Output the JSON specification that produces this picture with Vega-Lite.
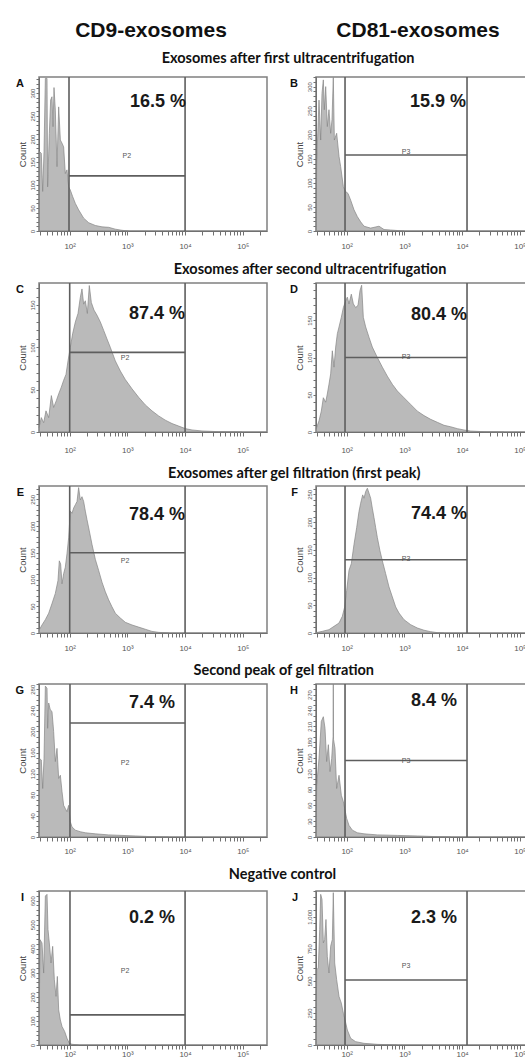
{
"$schema": "https://vega.github.io/schema/vega-lite/v6.json",
"padding": {"left": 14, "top": 20, "right": 0, "bottom": 0},
"spacing": 9,
"datasets": {
"markers": [{"marker": "CD9-exosomes"}, {"marker": "CD81-exosomes"}],
"gates": [
{"panel": "A", "letter": "A", "pct": "16.5 %", "gate": "P2", "g1": 1.988, "g2": 4.0, "gy": 120},
{"panel": "B", "letter": "B", "pct": "15.9 %", "gate": "P3", "g1": 1.971, "g2": 4.085, "gy": 158},
{"panel": "C", "letter": "C", "pct": "87.4 %", "gate": "P2", "g1": 2.0, "g2": 4.0, "gy": 94},
{"panel": "D", "letter": "D", "pct": "80.4 %", "gate": "P3", "g1": 1.971, "g2": 4.085, "gy": 100},
{"panel": "E", "letter": "E", "pct": "78.4 %", "gate": "P2", "g1": 2.0, "g2": 4.0, "gy": 150},
{"panel": "F", "letter": "F", "pct": "74.4 %", "gate": "P3", "g1": 1.971, "g2": 4.085, "gy": 132},
{"panel": "G", "letter": "G", "pct": "7.4 %", "gate": "P2", "g1": 2.005, "g2": 4.0, "gy": 216},
{"panel": "H", "letter": "H", "pct": "8.4 %", "gate": "P3", "g1": 1.971, "g2": 4.085, "gy": 145},
{"panel": "I", "letter": "I", "pct": "0.2 %", "gate": "P2", "g1": 2.005, "g2": 4.0, "gy": 125},
{"panel": "J", "letter": "J", "pct": "2.3 %", "gate": "P3", "g1": 1.971, "g2": 4.085, "gy": 506}
],
"hist": [
{"panel":"A","logFL":1.468,"count":0},{"panel":"A","logFL":1.474,"count":173},{"panel":"A","logFL":1.508,"count":169},{"panel":"A","logFL":1.532,"count":86},{"panel":"A","logFL":1.555,"count":173},{"panel":"A","logFL":1.578,"count":332},{"panel":"A","logFL":1.607,"count":332},{"panel":"A","logFL":1.618,"count":96},{"panel":"A","logFL":1.647,"count":212},{"panel":"A","logFL":1.670,"count":285},{"panel":"A","logFL":1.693,"count":292},{"panel":"A","logFL":1.711,"count":227},{"panel":"A","logFL":1.728,"count":312},{"panel":"A","logFL":1.751,"count":263},{"panel":"A","logFL":1.780,"count":140},{"panel":"A","logFL":1.809,"count":270},{"panel":"A","logFL":1.838,"count":198},{"panel":"A","logFL":1.867,"count":191},{"panel":"A","logFL":1.895,"count":183},{"panel":"A","logFL":1.924,"count":125},{"panel":"A","logFL":1.953,"count":133},{"panel":"A","logFL":1.982,"count":96},{"panel":"A","logFL":2.011,"count":89},{"panel":"A","logFL":2.051,"count":75},{"panel":"A","logFL":2.098,"count":60},{"panel":"A","logFL":2.155,"count":46},{"panel":"A","logFL":2.242,"count":28},{"panel":"A","logFL":2.329,"count":18},{"panel":"A","logFL":2.444,"count":12},{"panel":"A","logFL":2.560,"count":9},{"panel":"A","logFL":2.675,"count":8},{"panel":"A","logFL":2.791,"count":4},{"panel":"A","logFL":2.906,"count":1.5},{"panel":"A","logFL":3.022,"count":0},
{"panel":"B","logFL":1.468,"count":0},{"panel":"B","logFL":1.480,"count":141},{"panel":"B","logFL":1.520,"count":272},{"panel":"B","logFL":1.549,"count":189},{"panel":"B","logFL":1.572,"count":286},{"panel":"B","logFL":1.595,"count":314},{"panel":"B","logFL":1.612,"count":252},{"panel":"B","logFL":1.636,"count":300},{"panel":"B","logFL":1.664,"count":217},{"panel":"B","logFL":1.693,"count":252},{"panel":"B","logFL":1.722,"count":203},{"panel":"B","logFL":1.745,"count":231},{"panel":"B","logFL":1.768,"count":319},{"panel":"B","logFL":1.786,"count":189},{"panel":"B","logFL":1.826,"count":203},{"panel":"B","logFL":1.867,"count":155},{"panel":"B","logFL":1.895,"count":134},{"panel":"B","logFL":1.942,"count":92},{"panel":"B","logFL":1.982,"count":82},{"panel":"B","logFL":2.023,"count":78},{"panel":"B","logFL":2.069,"count":64},{"panel":"B","logFL":2.127,"count":44},{"panel":"B","logFL":2.184,"count":30},{"panel":"B","logFL":2.242,"count":19},{"panel":"B","logFL":2.300,"count":10},{"panel":"B","logFL":2.415,"count":6},{"panel":"B","logFL":2.560,"count":10},{"panel":"B","logFL":2.647,"count":3},{"panel":"B","logFL":2.762,"count":2},{"panel":"B","logFL":2.993,"count":0},
{"panel":"C","logFL":1.468,"count":5},{"panel":"C","logFL":1.508,"count":17},{"panel":"C","logFL":1.549,"count":11},{"panel":"C","logFL":1.589,"count":25},{"panel":"C","logFL":1.636,"count":17},{"panel":"C","logFL":1.682,"count":43},{"panel":"C","logFL":1.722,"count":29},{"panel":"C","logFL":1.768,"count":37},{"panel":"C","logFL":1.809,"count":45},{"panel":"C","logFL":1.855,"count":53},{"panel":"C","logFL":1.895,"count":61},{"panel":"C","logFL":1.936,"count":68},{"panel":"C","logFL":1.971,"count":84},{"panel":"C","logFL":2.011,"count":100},{"panel":"C","logFL":2.051,"count":116},{"panel":"C","logFL":2.098,"count":130},{"panel":"C","logFL":2.144,"count":140},{"panel":"C","logFL":2.184,"count":159},{"panel":"C","logFL":2.213,"count":169},{"panel":"C","logFL":2.242,"count":151},{"panel":"C","logFL":2.271,"count":155},{"panel":"C","logFL":2.306,"count":140},{"panel":"C","logFL":2.340,"count":173},{"panel":"C","logFL":2.375,"count":153},{"panel":"C","logFL":2.421,"count":144},{"panel":"C","logFL":2.473,"count":138},{"panel":"C","logFL":2.531,"count":130},{"panel":"C","logFL":2.589,"count":120},{"panel":"C","logFL":2.646,"count":110},{"panel":"C","logFL":2.704,"count":100},{"panel":"C","logFL":2.791,"count":84},{"panel":"C","logFL":2.878,"count":72},{"panel":"C","logFL":2.964,"count":62},{"panel":"C","logFL":3.080,"count":51},{"panel":"C","logFL":3.195,"count":41},{"panel":"C","logFL":3.311,"count":32},{"panel":"C","logFL":3.426,"count":25},{"panel":"C","logFL":3.542,"count":19},{"panel":"C","logFL":3.657,"count":14},{"panel":"C","logFL":3.773,"count":10},{"panel":"C","logFL":3.889,"count":7},{"panel":"C","logFL":4.004,"count":4},{"panel":"C","logFL":4.120,"count":2.4},{"panel":"C","logFL":4.293,"count":1.2},{"panel":"C","logFL":4.582,"count":0.4},{"panel":"C","logFL":4.986,"count":0},
{"panel":"D","logFL":1.468,"count":3.6},{"panel":"D","logFL":1.520,"count":15},{"panel":"D","logFL":1.560,"count":28},{"panel":"D","logFL":1.595,"count":46},{"panel":"D","logFL":1.636,"count":40},{"panel":"D","logFL":1.664,"count":51},{"panel":"D","logFL":1.693,"count":64},{"panel":"D","logFL":1.722,"count":78},{"panel":"D","logFL":1.751,"count":109},{"panel":"D","logFL":1.780,"count":87},{"panel":"D","logFL":1.809,"count":114},{"panel":"D","logFL":1.838,"count":132},{"panel":"D","logFL":1.867,"count":141},{"panel":"D","logFL":1.907,"count":154},{"panel":"D","logFL":1.942,"count":167},{"panel":"D","logFL":1.982,"count":176},{"panel":"D","logFL":2.011,"count":181},{"panel":"D","logFL":2.040,"count":172},{"panel":"D","logFL":2.080,"count":185},{"panel":"D","logFL":2.115,"count":172},{"panel":"D","logFL":2.155,"count":167},{"panel":"D","logFL":2.196,"count":170},{"panel":"D","logFL":2.231,"count":190},{"panel":"D","logFL":2.259,"count":197},{"panel":"D","logFL":2.288,"count":154},{"panel":"D","logFL":2.329,"count":141},{"panel":"D","logFL":2.387,"count":127},{"panel":"D","logFL":2.444,"count":114},{"panel":"D","logFL":2.531,"count":100},{"panel":"D","logFL":2.618,"count":87},{"panel":"D","logFL":2.704,"count":75},{"panel":"D","logFL":2.791,"count":64},{"panel":"D","logFL":2.878,"count":55},{"panel":"D","logFL":2.993,"count":46},{"panel":"D","logFL":3.109,"count":37},{"panel":"D","logFL":3.224,"count":28},{"panel":"D","logFL":3.340,"count":22},{"panel":"D","logFL":3.455,"count":17},{"panel":"D","logFL":3.571,"count":13},{"panel":"D","logFL":3.686,"count":9},{"panel":"D","logFL":3.802,"count":7},{"panel":"D","logFL":3.917,"count":4.5},{"panel":"D","logFL":4.033,"count":2.7},{"panel":"D","logFL":4.149,"count":1.3},{"panel":"D","logFL":4.380,"count":0.4},{"panel":"D","logFL":4.726,"count":0},
{"panel":"E","logFL":1.468,"count":5},{"panel":"E","logFL":1.474,"count":6},{"panel":"E","logFL":1.520,"count":15},{"panel":"E","logFL":1.578,"count":25},{"panel":"E","logFL":1.636,"count":37},{"panel":"E","logFL":1.693,"count":55},{"panel":"E","logFL":1.751,"count":74},{"panel":"E","logFL":1.797,"count":98},{"panel":"E","logFL":1.820,"count":135},{"panel":"E","logFL":1.843,"count":129},{"panel":"E","logFL":1.867,"count":92},{"panel":"E","logFL":1.895,"count":111},{"panel":"E","logFL":1.924,"count":123},{"panel":"E","logFL":1.953,"count":148},{"panel":"E","logFL":1.982,"count":178},{"panel":"E","logFL":2.011,"count":228},{"panel":"E","logFL":2.040,"count":224},{"panel":"E","logFL":2.069,"count":234},{"panel":"E","logFL":2.098,"count":240},{"panel":"E","logFL":2.127,"count":246},{"panel":"E","logFL":2.155,"count":272},{"panel":"E","logFL":2.184,"count":249},{"panel":"E","logFL":2.213,"count":255},{"panel":"E","logFL":2.242,"count":246},{"panel":"E","logFL":2.271,"count":228},{"panel":"E","logFL":2.300,"count":212},{"panel":"E","logFL":2.340,"count":191},{"panel":"E","logFL":2.386,"count":166},{"panel":"E","logFL":2.444,"count":138},{"panel":"E","logFL":2.502,"count":117},{"panel":"E","logFL":2.560,"count":95},{"panel":"E","logFL":2.618,"count":77},{"panel":"E","logFL":2.675,"count":62},{"panel":"E","logFL":2.733,"count":49},{"panel":"E","logFL":2.791,"count":37},{"panel":"E","logFL":2.878,"count":28},{"panel":"E","logFL":2.964,"count":20},{"panel":"E","logFL":3.080,"count":15},{"panel":"E","logFL":3.195,"count":11},{"panel":"E","logFL":3.311,"count":7},{"panel":"E","logFL":3.426,"count":3},{"panel":"E","logFL":3.542,"count":1.2},{"panel":"E","logFL":3.715,"count":0},
{"panel":"F","logFL":1.468,"count":0.6},{"panel":"F","logFL":1.578,"count":3},{"panel":"F","logFL":1.693,"count":6},{"panel":"F","logFL":1.780,"count":12},{"panel":"F","logFL":1.867,"count":18},{"panel":"F","logFL":1.924,"count":30},{"panel":"F","logFL":1.965,"count":47},{"panel":"F","logFL":2.000,"count":77},{"panel":"F","logFL":2.040,"count":113},{"panel":"F","logFL":2.080,"count":125},{"panel":"F","logFL":2.127,"count":160},{"panel":"F","logFL":2.173,"count":190},{"panel":"F","logFL":2.213,"count":219},{"panel":"F","logFL":2.242,"count":234},{"panel":"F","logFL":2.277,"count":249},{"panel":"F","logFL":2.300,"count":243},{"panel":"F","logFL":2.329,"count":255},{"panel":"F","logFL":2.358,"count":261},{"panel":"F","logFL":2.387,"count":252},{"panel":"F","logFL":2.415,"count":243},{"panel":"F","logFL":2.444,"count":225},{"panel":"F","logFL":2.473,"count":208},{"panel":"F","logFL":2.502,"count":190},{"panel":"F","logFL":2.531,"count":172},{"panel":"F","logFL":2.577,"count":148},{"panel":"F","logFL":2.618,"count":130},{"panel":"F","logFL":2.675,"count":107},{"panel":"F","logFL":2.733,"count":83},{"panel":"F","logFL":2.791,"count":65},{"panel":"F","logFL":2.849,"count":47},{"panel":"F","logFL":2.906,"count":36},{"panel":"F","logFL":2.993,"count":24},{"panel":"F","logFL":3.109,"count":15},{"panel":"F","logFL":3.224,"count":9},{"panel":"F","logFL":3.340,"count":5},{"panel":"F","logFL":3.455,"count":2.4},{"panel":"F","logFL":3.571,"count":0.6},{"panel":"F","logFL":3.686,"count":0},
{"panel":"G","logFL":1.468,"count":0},{"panel":"G","logFL":1.474,"count":149},{"panel":"G","logFL":1.508,"count":146},{"panel":"G","logFL":1.532,"count":92},{"panel":"G","logFL":1.555,"count":149},{"panel":"G","logFL":1.578,"count":286},{"panel":"G","logFL":1.607,"count":282},{"panel":"G","logFL":1.618,"count":206},{"panel":"G","logFL":1.636,"count":254},{"panel":"G","logFL":1.664,"count":241},{"panel":"G","logFL":1.693,"count":238},{"panel":"G","logFL":1.722,"count":200},{"panel":"G","logFL":1.751,"count":143},{"panel":"G","logFL":1.780,"count":168},{"panel":"G","logFL":1.809,"count":111},{"panel":"G","logFL":1.838,"count":117},{"panel":"G","logFL":1.867,"count":86},{"panel":"G","logFL":1.895,"count":60},{"panel":"G","logFL":1.924,"count":54},{"panel":"G","logFL":1.953,"count":48},{"panel":"G","logFL":1.982,"count":60},{"panel":"G","logFL":2.011,"count":29},{"panel":"G","logFL":2.040,"count":19},{"panel":"G","logFL":2.098,"count":13},{"panel":"G","logFL":2.184,"count":10},{"panel":"G","logFL":2.271,"count":8},{"panel":"G","logFL":2.444,"count":6},{"panel":"G","logFL":2.675,"count":4},{"panel":"G","logFL":2.906,"count":3},{"panel":"G","logFL":3.137,"count":2},{"panel":"G","logFL":3.426,"count":0.6},{"panel":"G","logFL":3.715,"count":0},
{"panel":"H","logFL":1.468,"count":0},{"panel":"H","logFL":1.480,"count":98},{"panel":"H","logFL":1.520,"count":149},{"panel":"H","logFL":1.560,"count":219},{"panel":"H","logFL":1.595,"count":228},{"panel":"H","logFL":1.624,"count":206},{"panel":"H","logFL":1.653,"count":143},{"panel":"H","logFL":1.682,"count":175},{"panel":"H","logFL":1.711,"count":124},{"panel":"H","logFL":1.740,"count":149},{"panel":"H","logFL":1.764,"count":190},{"panel":"H","logFL":1.768,"count":290},{"panel":"H","logFL":1.772,"count":185},{"panel":"H","logFL":1.797,"count":168},{"panel":"H","logFL":1.826,"count":92},{"panel":"H","logFL":1.867,"count":117},{"panel":"H","logFL":1.907,"count":79},{"panel":"H","logFL":1.942,"count":67},{"panel":"H","logFL":1.965,"count":54},{"panel":"H","logFL":2.000,"count":35},{"panel":"H","logFL":2.040,"count":22},{"panel":"H","logFL":2.098,"count":13},{"panel":"H","logFL":2.184,"count":8},{"panel":"H","logFL":2.300,"count":6},{"panel":"H","logFL":2.531,"count":4},{"panel":"H","logFL":2.878,"count":3},{"panel":"H","logFL":3.224,"count":2},{"panel":"H","logFL":3.571,"count":0.6},{"panel":"H","logFL":3.802,"count":0},
{"panel":"I","logFL":1.468,"count":0},{"panel":"I","logFL":1.485,"count":438},{"panel":"I","logFL":1.520,"count":424},{"panel":"I","logFL":1.549,"count":299},{"panel":"I","logFL":1.578,"count":619},{"panel":"I","logFL":1.607,"count":626},{"panel":"I","logFL":1.624,"count":480},{"panel":"I","logFL":1.647,"count":424},{"panel":"I","logFL":1.676,"count":341},{"panel":"I","logFL":1.705,"count":410},{"panel":"I","logFL":1.734,"count":271},{"panel":"I","logFL":1.763,"count":202},{"panel":"I","logFL":1.786,"count":285},{"panel":"I","logFL":1.809,"count":146},{"panel":"I","logFL":1.838,"count":104},{"panel":"I","logFL":1.867,"count":77},{"panel":"I","logFL":1.913,"count":56},{"panel":"I","logFL":1.953,"count":28},{"panel":"I","logFL":1.994,"count":7},{"panel":"I","logFL":2.040,"count":3},{"panel":"I","logFL":2.155,"count":0},
{"panel":"J","logFL":1.468,"count":0},{"panel":"J","logFL":1.480,"count":587},{"panel":"J","logFL":1.508,"count":600},{"panel":"J","logFL":1.532,"count":900},{"panel":"J","logFL":1.549,"count":1174},{"panel":"J","logFL":1.572,"count":1135},{"panel":"J","logFL":1.595,"count":796},{"panel":"J","logFL":1.618,"count":822},{"panel":"J","logFL":1.641,"count":978},{"panel":"J","logFL":1.664,"count":691},{"panel":"J","logFL":1.693,"count":561},{"panel":"J","logFL":1.722,"count":770},{"panel":"J","logFL":1.751,"count":822},{"panel":"J","logFL":1.768,"count":1187},{"panel":"J","logFL":1.792,"count":639},{"panel":"J","logFL":1.826,"count":509},{"panel":"J","logFL":1.867,"count":378},{"panel":"J","logFL":1.907,"count":326},{"panel":"J","logFL":1.942,"count":248},{"panel":"J","logFL":1.971,"count":196},{"panel":"J","logFL":2.011,"count":117},{"panel":"J","logFL":2.069,"count":52},{"panel":"J","logFL":2.155,"count":26},{"panel":"J","logFL":2.300,"count":13},{"panel":"J","logFL":2.531,"count":5},{"panel":"J","logFL":2.878,"count":0}
]
},
"vconcat": [
{"hconcat": [
 {"width": 228, "height": 20, "view": {"stroke": null}, "data": {"name": "markers"}, "transform": [{"filter": "datum.marker === 'CD9-exosomes'"}], "mark": {"type": "text", "font": "Liberation Sans", "fontSize": 21, "fontWeight": "bold", "color": "#111", "dx": -2}, "encoding": {"text": {"field": "marker"}}},
 {"width": 210, "height": 20, "view": {"stroke": null}, "data": {"name": "markers"}, "transform": [{"filter": "datum.marker === 'CD81-exosomes'"}], "mark": {"type": "text", "font": "Liberation Sans", "fontSize": 21, "fontWeight": "bold", "color": "#111", "dx": -3}, "encoding": {"text": {"field": "marker"}}}
], "spacing": 49, "bounds": "flush"},
{"vconcat": [
{"title": {"text": "Exosomes after first ultracentrifugation", "dx": 17, "offset": 9}, "spacing": 49, "bounds": "flush", "hconcat": [
 {"width": 228, "height": 154, "layer": [
  {"data": {"name": "hist"}, "transform": [{"filter": "datum.panel === 'A'"}], "mark": {"type": "area", "color": "#9d9d9d", "line": {"color": "#858585", "strokeWidth": 0.7}},
   "encoding": {"x": {"field": "logFL", "type": "quantitative", "scale": {"domain": [1.468, 5.42], "nice": false, "zero": false}, "axis": {"title": null, "tickCount": 100, "labelOverlap": false, "labelPadding": 7, "values": [1.477,1.602,1.699,1.778,1.845,1.903,1.954,2,2.301,2.477,2.602,2.699,2.778,2.845,2.903,2.954,3,3.301,3.477,3.602,3.699,3.778,3.845,3.903,3.954,4,4.301,4.477,4.602,4.699,4.778,4.845,4.903,4.954,5,5.301], "labelExpr": "datum.value == 2 ? '10²' : datum.value == 3 ? '10³' : datum.value == 4 ? '10⁴' : datum.value == 5 ? '10⁵' : ''"}},
    "y": {"field": "count", "type": "quantitative", "scale": {"domain": [0, 335], "nice": false}, "axis": {"title": "Count", "tickCount": 100, "labelOverlap": false, "values": [0,10,20,30,40,50,60,70,80,90,100,110,120,130,140,150,160,170,180,190,200,210,220,230,240,250,260,270,280,290,300,310,320,330], "labelExpr": "datum.value % 50 === 0 ? format(datum.value, ',') : ''"}}}},
  {"data": {"name": "gates"}, "transform": [{"filter": "datum.panel === 'A'"}, {"fold": ["g1", "g2"], "as": ["edge", "gx"]}], "mark": {"type": "rule", "color": "#5e5e5e", "strokeWidth": 1.6}, "encoding": {"x": {"field": "gx", "type": "quantitative"}}},
  {"data": {"name": "gates"}, "transform": [{"filter": "datum.panel === 'A'"}], "mark": {"type": "rule", "color": "#5e5e5e", "strokeWidth": 1.6}, "encoding": {"x": {"field": "g1", "type": "quantitative"}, "x2": {"field": "g2"}, "y": {"field": "gy", "type": "quantitative"}}},
  {"data": {"name": "gates"}, "transform": [{"filter": "datum.panel === 'A'"}], "mark": {"type": "text", "fontWeight": "bold", "fontSize": 18, "align": "right", "baseline": "alphabetic", "color": "#1a1a1a"}, "encoding": {"x": {"datum": 4.015}, "y": {"datum": 270}, "text": {"field": "pct"}}},
  {"data": {"name": "gates"}, "transform": [{"filter": "datum.panel === 'A'"}], "mark": {"type": "text", "fontSize": 7, "color": "#555", "baseline": "middle"}, "encoding": {"x": {"datum": 2.99}, "y": {"datum": 163}, "text": {"field": "gate"}}},
  {"data": {"name": "gates"}, "transform": [{"filter": "datum.panel === 'A'"}], "mark": {"type": "text", "fontWeight": "bold", "fontSize": 11, "align": "right", "baseline": "middle", "dx": -15, "dy": 7, "color": "#111"}, "encoding": {"x": {"datum": 1.468}, "y": {"datum": 335}, "text": {"field": "letter"}}}
 ]},
 {"width": 210, "height": 154, "layer": [
  {"data": {"name": "hist"}, "transform": [{"filter": "datum.panel === 'B'"}], "mark": {"type": "area", "color": "#9d9d9d", "line": {"color": "#858585", "strokeWidth": 0.7}},
   "encoding": {"x": {"field": "logFL", "type": "quantitative", "scale": {"domain": [1.468, 5.107], "nice": false, "zero": false}, "axis": {"title": null, "tickCount": 100, "labelOverlap": false, "labelPadding": 7, "values": [1.477,1.602,1.699,1.778,1.845,1.903,1.954,2,2.301,2.477,2.602,2.699,2.778,2.845,2.903,2.954,3,3.301,3.477,3.602,3.699,3.778,3.845,3.903,3.954,4,4.301,4.477,4.602,4.699,4.778,4.845,4.903,4.954,5], "labelExpr": "datum.value == 2 ? '10²' : datum.value == 3 ? '10³' : datum.value == 4 ? '10⁴' : datum.value == 5 ? '10⁵' : ''"}},
    "y": {"field": "count", "type": "quantitative", "scale": {"domain": [0, 320], "nice": false}, "axis": {"title": "Count", "tickCount": 100, "labelOverlap": false, "values": [0,10,20,30,40,50,60,70,80,90,100,110,120,130,140,150,160,170,180,190,200,210,220,230,240,250,260,270,280,290,300,310,320], "labelExpr": "datum.value % 50 === 0 ? format(datum.value, ',') : ''"}}}},
  {"data": {"name": "gates"}, "transform": [{"filter": "datum.panel === 'B'"}, {"fold": ["g1", "g2"], "as": ["edge", "gx"]}], "mark": {"type": "rule", "color": "#5e5e5e", "strokeWidth": 1.6}, "encoding": {"x": {"field": "gx", "type": "quantitative"}}},
  {"data": {"name": "gates"}, "transform": [{"filter": "datum.panel === 'B'"}], "mark": {"type": "rule", "color": "#5e5e5e", "strokeWidth": 1.6}, "encoding": {"x": {"field": "g1", "type": "quantitative"}, "x2": {"field": "g2"}, "y": {"field": "gy", "type": "quantitative"}}},
  {"data": {"name": "gates"}, "transform": [{"filter": "datum.panel === 'B'"}], "mark": {"type": "text", "fontWeight": "bold", "fontSize": 18, "align": "right", "baseline": "alphabetic", "color": "#1a1a1a"}, "encoding": {"x": {"datum": 4.067}, "y": {"datum": 258}, "text": {"field": "pct"}}},
  {"data": {"name": "gates"}, "transform": [{"filter": "datum.panel === 'B'"}], "mark": {"type": "text", "fontSize": 7, "color": "#555", "baseline": "middle"}, "encoding": {"x": {"datum": 3.028}, "y": {"datum": 164}, "text": {"field": "gate"}}},
  {"data": {"name": "gates"}, "transform": [{"filter": "datum.panel === 'B'"}], "mark": {"type": "text", "fontWeight": "bold", "fontSize": 11, "align": "right", "baseline": "middle", "dx": -18, "dy": 7, "color": "#111"}, "encoding": {"x": {"datum": 1.468}, "y": {"datum": 320}, "text": {"field": "letter"}}}
 ]}
]},
{"title": {"text": "Exosomes after second ultracentrifugation", "dx": 39, "offset": 4}, "spacing": 49, "bounds": "flush", "hconcat": [
 {"width": 228, "height": 149, "layer": [
  {"data": {"name": "hist"}, "transform": [{"filter": "datum.panel === 'C'"}], "mark": {"type": "area", "color": "#9d9d9d", "line": {"color": "#858585", "strokeWidth": 0.7}},
   "encoding": {"x": {"field": "logFL", "type": "quantitative", "scale": {"domain": [1.468, 5.42], "nice": false, "zero": false}, "axis": {"title": null, "tickCount": 100, "labelOverlap": false, "labelPadding": 10, "values": [1.477,1.602,1.699,1.778,1.845,1.903,1.954,2,2.301,2.477,2.602,2.699,2.778,2.845,2.903,2.954,3,3.301,3.477,3.602,3.699,3.778,3.845,3.903,3.954,4,4.301,4.477,4.602,4.699,4.778,4.845,4.903,4.954,5,5.301], "labelExpr": "datum.value == 2 ? '10²' : datum.value == 3 ? '10³' : datum.value == 4 ? '10⁴' : datum.value == 5 ? '10⁵' : ''"}},
    "y": {"field": "count", "type": "quantitative", "scale": {"domain": [0, 176], "nice": false}, "axis": {"title": "Count", "tickCount": 100, "labelOverlap": false, "values": [0,10,20,30,40,50,60,70,80,90,100,110,120,130,140,150,160,170], "labelExpr": "datum.value % 50 === 0 ? format(datum.value, ',') : ''"}}}},
  {"data": {"name": "gates"}, "transform": [{"filter": "datum.panel === 'C'"}, {"fold": ["g1", "g2"], "as": ["edge", "gx"]}], "mark": {"type": "rule", "color": "#5e5e5e", "strokeWidth": 1.6}, "encoding": {"x": {"field": "gx", "type": "quantitative"}}},
  {"data": {"name": "gates"}, "transform": [{"filter": "datum.panel === 'C'"}], "mark": {"type": "rule", "color": "#5e5e5e", "strokeWidth": 1.6}, "encoding": {"x": {"field": "g1", "type": "quantitative"}, "x2": {"field": "g2"}, "y": {"field": "gy", "type": "quantitative"}}},
  {"data": {"name": "gates"}, "transform": [{"filter": "datum.panel === 'C'"}], "mark": {"type": "text", "fontWeight": "bold", "fontSize": 18, "align": "right", "baseline": "alphabetic", "color": "#1a1a1a"}, "encoding": {"x": {"datum": 4.0}, "y": {"datum": 134}, "text": {"field": "pct"}}},
  {"data": {"name": "gates"}, "transform": [{"filter": "datum.panel === 'C'"}], "mark": {"type": "text", "fontSize": 7, "color": "#555", "baseline": "middle"}, "encoding": {"x": {"datum": 2.96}, "y": {"datum": 87}, "text": {"field": "gate"}}},
  {"data": {"name": "gates"}, "transform": [{"filter": "datum.panel === 'C'"}], "mark": {"type": "text", "fontWeight": "bold", "fontSize": 11, "align": "right", "baseline": "middle", "dx": -15, "dy": 7, "color": "#111"}, "encoding": {"x": {"datum": 1.468}, "y": {"datum": 176}, "text": {"field": "letter"}}}
 ]},
 {"width": 210, "height": 149, "layer": [
  {"data": {"name": "hist"}, "transform": [{"filter": "datum.panel === 'D'"}], "mark": {"type": "area", "color": "#9d9d9d", "line": {"color": "#858585", "strokeWidth": 0.7}},
   "encoding": {"x": {"field": "logFL", "type": "quantitative", "scale": {"domain": [1.468, 5.107], "nice": false, "zero": false}, "axis": {"title": null, "tickCount": 100, "labelOverlap": false, "labelPadding": 10, "values": [1.477,1.602,1.699,1.778,1.845,1.903,1.954,2,2.301,2.477,2.602,2.699,2.778,2.845,2.903,2.954,3,3.301,3.477,3.602,3.699,3.778,3.845,3.903,3.954,4,4.301,4.477,4.602,4.699,4.778,4.845,4.903,4.954,5], "labelExpr": "datum.value == 2 ? '10²' : datum.value == 3 ? '10³' : datum.value == 4 ? '10⁴' : datum.value == 5 ? '10⁵' : ''"}},
    "y": {"field": "count", "type": "quantitative", "scale": {"domain": [0, 200], "nice": false}, "axis": {"title": "Count", "tickCount": 100, "labelOverlap": false, "values": [0,10,20,30,40,50,60,70,80,90,100,110,120,130,140,150,160,170,180,190,200], "labelExpr": "datum.value % 50 === 0 && datum.value < 200 ? format(datum.value, ',') : ''"}}}},
  {"data": {"name": "gates"}, "transform": [{"filter": "datum.panel === 'D'"}, {"fold": ["g1", "g2"], "as": ["edge", "gx"]}], "mark": {"type": "rule", "color": "#5e5e5e", "strokeWidth": 1.6}, "encoding": {"x": {"field": "gx", "type": "quantitative"}}},
  {"data": {"name": "gates"}, "transform": [{"filter": "datum.panel === 'D'"}], "mark": {"type": "rule", "color": "#5e5e5e", "strokeWidth": 1.6}, "encoding": {"x": {"field": "g1", "type": "quantitative"}, "x2": {"field": "g2"}, "y": {"field": "gy", "type": "quantitative"}}},
  {"data": {"name": "gates"}, "transform": [{"filter": "datum.panel === 'D'"}], "mark": {"type": "text", "fontWeight": "bold", "fontSize": 18, "align": "right", "baseline": "alphabetic", "color": "#1a1a1a"}, "encoding": {"x": {"datum": 4.085}, "y": {"datum": 151}, "text": {"field": "pct"}}},
  {"data": {"name": "gates"}, "transform": [{"filter": "datum.panel === 'D'"}], "mark": {"type": "text", "fontSize": 7, "color": "#555", "baseline": "middle"}, "encoding": {"x": {"datum": 3.028}, "y": {"datum": 101}, "text": {"field": "gate"}}},
  {"data": {"name": "gates"}, "transform": [{"filter": "datum.panel === 'D'"}], "mark": {"type": "text", "fontWeight": "bold", "fontSize": 11, "align": "right", "baseline": "middle", "dx": -18, "dy": 7, "color": "#111"}, "encoding": {"x": {"datum": 1.468}, "y": {"datum": 200}, "text": {"field": "letter"}}}
 ]}
]},
{"title": {"text": "Exosomes after gel filtration (first peak)", "dx": 23, "offset": 3}, "spacing": 49, "bounds": "flush", "hconcat": [
 {"width": 228, "height": 147, "layer": [
  {"data": {"name": "hist"}, "transform": [{"filter": "datum.panel === 'E'"}], "mark": {"type": "area", "color": "#9d9d9d", "line": {"color": "#858585", "strokeWidth": 0.7}},
   "encoding": {"x": {"field": "logFL", "type": "quantitative", "scale": {"domain": [1.468, 5.42], "nice": false, "zero": false}, "axis": {"title": null, "tickCount": 100, "labelOverlap": false, "labelPadding": 7, "values": [1.477,1.602,1.699,1.778,1.845,1.903,1.954,2,2.301,2.477,2.602,2.699,2.778,2.845,2.903,2.954,3,3.301,3.477,3.602,3.699,3.778,3.845,3.903,3.954,4,4.301,4.477,4.602,4.699,4.778,4.845,4.903,4.954,5,5.301], "labelExpr": "datum.value == 2 ? '10²' : datum.value == 3 ? '10³' : datum.value == 4 ? '10⁴' : datum.value == 5 ? '10⁵' : ''"}},
    "y": {"field": "count", "type": "quantitative", "scale": {"domain": [0, 275], "nice": false}, "axis": {"title": "Count", "tickCount": 100, "labelOverlap": false, "values": [0,10,20,30,40,50,60,70,80,90,100,110,120,130,140,150,160,170,180,190,200,210,220,230,240,250,260,270], "labelExpr": "datum.value % 50 === 0 ? format(datum.value, ',') : ''"}}}},
  {"data": {"name": "gates"}, "transform": [{"filter": "datum.panel === 'E'"}, {"fold": ["g1", "g2"], "as": ["edge", "gx"]}], "mark": {"type": "rule", "color": "#5e5e5e", "strokeWidth": 1.6}, "encoding": {"x": {"field": "gx", "type": "quantitative"}}},
  {"data": {"name": "gates"}, "transform": [{"filter": "datum.panel === 'E'"}], "mark": {"type": "rule", "color": "#5e5e5e", "strokeWidth": 1.6}, "encoding": {"x": {"field": "g1", "type": "quantitative"}, "x2": {"field": "g2"}, "y": {"field": "gy", "type": "quantitative"}}},
  {"data": {"name": "gates"}, "transform": [{"filter": "datum.panel === 'E'"}], "mark": {"type": "text", "fontWeight": "bold", "fontSize": 18, "align": "right", "baseline": "alphabetic", "color": "#1a1a1a"}, "encoding": {"x": {"datum": 4.0}, "y": {"datum": 212}, "text": {"field": "pct"}}},
  {"data": {"name": "gates"}, "transform": [{"filter": "datum.panel === 'E'"}], "mark": {"type": "text", "fontSize": 7, "color": "#555", "baseline": "middle"}, "encoding": {"x": {"datum": 2.96}, "y": {"datum": 135}, "text": {"field": "gate"}}},
  {"data": {"name": "gates"}, "transform": [{"filter": "datum.panel === 'E'"}], "mark": {"type": "text", "fontWeight": "bold", "fontSize": 11, "align": "right", "baseline": "middle", "dx": -15, "dy": 7, "color": "#111"}, "encoding": {"x": {"datum": 1.468}, "y": {"datum": 275}, "text": {"field": "letter"}}}
 ]},
 {"width": 210, "height": 147, "layer": [
  {"data": {"name": "hist"}, "transform": [{"filter": "datum.panel === 'F'"}], "mark": {"type": "area", "color": "#9d9d9d", "line": {"color": "#858585", "strokeWidth": 0.7}},
   "encoding": {"x": {"field": "logFL", "type": "quantitative", "scale": {"domain": [1.468, 5.107], "nice": false, "zero": false}, "axis": {"title": null, "tickCount": 100, "labelOverlap": false, "labelPadding": 7, "values": [1.477,1.602,1.699,1.778,1.845,1.903,1.954,2,2.301,2.477,2.602,2.699,2.778,2.845,2.903,2.954,3,3.301,3.477,3.602,3.699,3.778,3.845,3.903,3.954,4,4.301,4.477,4.602,4.699,4.778,4.845,4.903,4.954,5], "labelExpr": "datum.value == 2 ? '10²' : datum.value == 3 ? '10³' : datum.value == 4 ? '10⁴' : datum.value == 5 ? '10⁵' : ''"}},
    "y": {"field": "count", "type": "quantitative", "scale": {"domain": [0, 265], "nice": false}, "axis": {"title": "Count", "tickCount": 100, "labelOverlap": false, "values": [0,10,20,30,40,50,60,70,80,90,100,110,120,130,140,150,160,170,180,190,200,210,220,230,240,250,260], "labelExpr": "datum.value % 50 === 0 ? format(datum.value, ',') : ''"}}}},
  {"data": {"name": "gates"}, "transform": [{"filter": "datum.panel === 'F'"}, {"fold": ["g1", "g2"], "as": ["edge", "gx"]}], "mark": {"type": "rule", "color": "#5e5e5e", "strokeWidth": 1.6}, "encoding": {"x": {"field": "gx", "type": "quantitative"}}},
  {"data": {"name": "gates"}, "transform": [{"filter": "datum.panel === 'F'"}], "mark": {"type": "rule", "color": "#5e5e5e", "strokeWidth": 1.6}, "encoding": {"x": {"field": "g1", "type": "quantitative"}, "x2": {"field": "g2"}, "y": {"field": "gy", "type": "quantitative"}}},
  {"data": {"name": "gates"}, "transform": [{"filter": "datum.panel === 'F'"}], "mark": {"type": "text", "fontWeight": "bold", "fontSize": 18, "align": "right", "baseline": "alphabetic", "color": "#1a1a1a"}, "encoding": {"x": {"datum": 4.085}, "y": {"datum": 205}, "text": {"field": "pct"}}},
  {"data": {"name": "gates"}, "transform": [{"filter": "datum.panel === 'F'"}], "mark": {"type": "text", "fontSize": 7, "color": "#555", "baseline": "middle"}, "encoding": {"x": {"datum": 3.028}, "y": {"datum": 133}, "text": {"field": "gate"}}},
  {"data": {"name": "gates"}, "transform": [{"filter": "datum.panel === 'F'"}], "mark": {"type": "text", "fontWeight": "bold", "fontSize": 11, "align": "right", "baseline": "middle", "dx": -18, "dy": 7, "color": "#111"}, "encoding": {"x": {"datum": 1.468}, "y": {"datum": 265}, "text": {"field": "letter"}}}
 ]}
]},
{"title": {"text": "Second peak of gel filtration", "dx": 13, "offset": 3}, "spacing": 49, "bounds": "flush", "hconcat": [
 {"width": 228, "height": 153, "layer": [
  {"data": {"name": "hist"}, "transform": [{"filter": "datum.panel === 'G'"}], "mark": {"type": "area", "color": "#9d9d9d", "line": {"color": "#858585", "strokeWidth": 0.7}},
   "encoding": {"x": {"field": "logFL", "type": "quantitative", "scale": {"domain": [1.468, 5.42], "nice": false, "zero": false}, "axis": {"title": null, "tickCount": 100, "labelOverlap": false, "labelPadding": 6, "values": [1.477,1.602,1.699,1.778,1.845,1.903,1.954,2,2.301,2.477,2.602,2.699,2.778,2.845,2.903,2.954,3,3.301,3.477,3.602,3.699,3.778,3.845,3.903,3.954,4,4.301,4.477,4.602,4.699,4.778,4.845,4.903,4.954,5,5.301], "labelExpr": "datum.value == 2 ? '10²' : datum.value == 3 ? '10³' : datum.value == 4 ? '10⁴' : datum.value == 5 ? '10⁵' : ''"}},
    "y": {"field": "count", "type": "quantitative", "scale": {"domain": [0, 290], "nice": false}, "axis": {"title": "Count", "tickCount": 100, "labelOverlap": false, "values": [0,10,20,30,40,50,60,70,80,90,100,110,120,130,140,150,160,170,180,190,200,210,220,230,240,250,260,270,280,290], "labelExpr": "datum.value % 40 === 0 ? format(datum.value, ',') : ''"}}}},
  {"data": {"name": "gates"}, "transform": [{"filter": "datum.panel === 'G'"}, {"fold": ["g1", "g2"], "as": ["edge", "gx"]}], "mark": {"type": "rule", "color": "#5e5e5e", "strokeWidth": 1.6}, "encoding": {"x": {"field": "gx", "type": "quantitative"}}},
  {"data": {"name": "gates"}, "transform": [{"filter": "datum.panel === 'G'"}], "mark": {"type": "rule", "color": "#5e5e5e", "strokeWidth": 1.6}, "encoding": {"x": {"field": "g1", "type": "quantitative"}, "x2": {"field": "g2"}, "y": {"field": "gy", "type": "quantitative"}}},
  {"data": {"name": "gates"}, "transform": [{"filter": "datum.panel === 'G'"}], "mark": {"type": "text", "fontWeight": "bold", "fontSize": 18, "align": "right", "baseline": "alphabetic", "color": "#1a1a1a"}, "encoding": {"x": {"datum": 3.825}, "y": {"datum": 244}, "text": {"field": "pct"}}},
  {"data": {"name": "gates"}, "transform": [{"filter": "datum.panel === 'G'"}], "mark": {"type": "text", "fontSize": 7, "color": "#555", "baseline": "middle"}, "encoding": {"x": {"datum": 2.96}, "y": {"datum": 141}, "text": {"field": "gate"}}},
  {"data": {"name": "gates"}, "transform": [{"filter": "datum.panel === 'G'"}], "mark": {"type": "text", "fontWeight": "bold", "fontSize": 11, "align": "right", "baseline": "middle", "dx": -15, "dy": 7, "color": "#111"}, "encoding": {"x": {"datum": 1.468}, "y": {"datum": 290}, "text": {"field": "letter"}}}
 ]},
 {"width": 210, "height": 153, "layer": [
  {"data": {"name": "hist"}, "transform": [{"filter": "datum.panel === 'H'"}], "mark": {"type": "area", "color": "#9d9d9d", "line": {"color": "#858585", "strokeWidth": 0.7}},
   "encoding": {"x": {"field": "logFL", "type": "quantitative", "scale": {"domain": [1.468, 5.107], "nice": false, "zero": false}, "axis": {"title": null, "tickCount": 100, "labelOverlap": false, "labelPadding": 6, "values": [1.477,1.602,1.699,1.778,1.845,1.903,1.954,2,2.301,2.477,2.602,2.699,2.778,2.845,2.903,2.954,3,3.301,3.477,3.602,3.699,3.778,3.845,3.903,3.954,4,4.301,4.477,4.602,4.699,4.778,4.845,4.903,4.954,5], "labelExpr": "datum.value == 2 ? '10²' : datum.value == 3 ? '10³' : datum.value == 4 ? '10⁴' : datum.value == 5 ? '10⁵' : ''"}},
    "y": {"field": "count", "type": "quantitative", "scale": {"domain": [0, 290], "nice": false}, "axis": {"title": "Count", "tickCount": 100, "labelOverlap": false, "values": [0,10,20,30,40,50,60,70,80,90,100,110,120,130,140,150,160,170,180,190,200,210,220,230,240,250,260,270,280,290], "labelExpr": "datum.value % 30 === 0 ? format(datum.value, ',') : ''"}}}},
  {"data": {"name": "gates"}, "transform": [{"filter": "datum.panel === 'H'"}, {"fold": ["g1", "g2"], "as": ["edge", "gx"]}], "mark": {"type": "rule", "color": "#5e5e5e", "strokeWidth": 1.6}, "encoding": {"x": {"field": "gx", "type": "quantitative"}}},
  {"data": {"name": "gates"}, "transform": [{"filter": "datum.panel === 'H'"}], "mark": {"type": "rule", "color": "#5e5e5e", "strokeWidth": 1.6}, "encoding": {"x": {"field": "g1", "type": "quantitative"}, "x2": {"field": "g2"}, "y": {"field": "gy", "type": "quantitative"}}},
  {"data": {"name": "gates"}, "transform": [{"filter": "datum.panel === 'H'"}], "mark": {"type": "text", "fontWeight": "bold", "fontSize": 18, "align": "right", "baseline": "alphabetic", "color": "#1a1a1a"}, "encoding": {"x": {"datum": 3.912}, "y": {"datum": 248}, "text": {"field": "pct"}}},
  {"data": {"name": "gates"}, "transform": [{"filter": "datum.panel === 'H'"}], "mark": {"type": "text", "fontSize": 7, "color": "#555", "baseline": "middle"}, "encoding": {"x": {"datum": 3.028}, "y": {"datum": 145}, "text": {"field": "gate"}}},
  {"data": {"name": "gates"}, "transform": [{"filter": "datum.panel === 'H'"}], "mark": {"type": "text", "fontWeight": "bold", "fontSize": 11, "align": "right", "baseline": "middle", "dx": -18, "dy": 7, "color": "#111"}, "encoding": {"x": {"datum": 1.468}, "y": {"datum": 290}, "text": {"field": "letter"}}}
 ]}
]},
{"title": {"text": "Negative control", "dx": 11, "offset": 7}, "spacing": 49, "bounds": "flush", "hconcat": [
 {"width": 228, "height": 154, "layer": [
  {"data": {"name": "hist"}, "transform": [{"filter": "datum.panel === 'I'"}], "mark": {"type": "area", "color": "#9d9d9d", "line": {"color": "#858585", "strokeWidth": 0.7}},
   "encoding": {"x": {"field": "logFL", "type": "quantitative", "scale": {"domain": [1.468, 5.42], "nice": false, "zero": false}, "axis": {"title": null, "tickCount": 100, "labelOverlap": false, "labelPadding": 1, "values": [1.477,1.602,1.699,1.778,1.845,1.903,1.954,2,2.301,2.477,2.602,2.699,2.778,2.845,2.903,2.954,3,3.301,3.477,3.602,3.699,3.778,3.845,3.903,3.954,4,4.301,4.477,4.602,4.699,4.778,4.845,4.903,4.954,5,5.301], "labelExpr": "datum.value == 2 ? '10²' : datum.value == 3 ? '10³' : datum.value == 4 ? '10⁴' : datum.value == 5 ? '10⁵' : ''"}},
    "y": {"field": "count", "type": "quantitative", "scale": {"domain": [0, 640], "nice": false}, "axis": {"title": "Count", "tickCount": 100, "labelOverlap": false, "values": [0,20,40,60,80,100,120,140,160,180,200,220,240,260,280,300,320,340,360,380,400,420,440,460,480,500,520,540,560,580,600,620,640], "labelExpr": "datum.value % 100 === 0 ? format(datum.value, ',') : ''"}}}},
  {"data": {"name": "gates"}, "transform": [{"filter": "datum.panel === 'I'"}, {"fold": ["g1", "g2"], "as": ["edge", "gx"]}], "mark": {"type": "rule", "color": "#5e5e5e", "strokeWidth": 1.6}, "encoding": {"x": {"field": "gx", "type": "quantitative"}}},
  {"data": {"name": "gates"}, "transform": [{"filter": "datum.panel === 'I'"}], "mark": {"type": "rule", "color": "#5e5e5e", "strokeWidth": 1.6}, "encoding": {"x": {"field": "g1", "type": "quantitative"}, "x2": {"field": "g2"}, "y": {"field": "gy", "type": "quantitative"}}},
  {"data": {"name": "gates"}, "transform": [{"filter": "datum.panel === 'I'"}], "mark": {"type": "text", "fontWeight": "bold", "fontSize": 18, "align": "right", "baseline": "alphabetic", "color": "#1a1a1a"}, "encoding": {"x": {"datum": 3.825}, "y": {"datum": 507}, "text": {"field": "pct"}}},
  {"data": {"name": "gates"}, "transform": [{"filter": "datum.panel === 'I'"}], "mark": {"type": "text", "fontSize": 7, "color": "#555", "baseline": "middle"}, "encoding": {"x": {"datum": 2.96}, "y": {"datum": 308}, "text": {"field": "gate"}}},
  {"data": {"name": "gates"}, "transform": [{"filter": "datum.panel === 'I'"}], "mark": {"type": "text", "fontWeight": "bold", "fontSize": 11, "align": "right", "baseline": "middle", "dx": -15, "dy": 7, "color": "#111"}, "encoding": {"x": {"datum": 1.468}, "y": {"datum": 640}, "text": {"field": "letter"}}}
 ]},
 {"width": 210, "height": 154, "layer": [
  {"data": {"name": "hist"}, "transform": [{"filter": "datum.panel === 'J'"}], "mark": {"type": "area", "color": "#9d9d9d", "line": {"color": "#858585", "strokeWidth": 0.7}},
   "encoding": {"x": {"field": "logFL", "type": "quantitative", "scale": {"domain": [1.468, 5.107], "nice": false, "zero": false}, "axis": {"title": null, "tickCount": 100, "labelOverlap": false, "labelPadding": 1, "values": [1.477,1.602,1.699,1.778,1.845,1.903,1.954,2,2.301,2.477,2.602,2.699,2.778,2.845,2.903,2.954,3,3.301,3.477,3.602,3.699,3.778,3.845,3.903,3.954,4,4.301,4.477,4.602,4.699,4.778,4.845,4.903,4.954,5], "labelExpr": "datum.value == 2 ? '10²' : datum.value == 3 ? '10³' : datum.value == 4 ? '10⁴' : datum.value == 5 ? '10⁵' : ''"}},
    "y": {"field": "count", "type": "quantitative", "scale": {"domain": [0, 1200], "nice": false}, "axis": {"title": "Count", "tickCount": 100, "labelOverlap": false, "values": [0,50,100,150,200,250,300,350,400,450,500,550,600,650,700,750,800,850,900,950,1000,1050,1100,1150,1200], "labelExpr": "datum.value % 250 === 0 ? format(datum.value, ',') : ''"}}}},
  {"data": {"name": "gates"}, "transform": [{"filter": "datum.panel === 'J'"}, {"fold": ["g1", "g2"], "as": ["edge", "gx"]}], "mark": {"type": "rule", "color": "#5e5e5e", "strokeWidth": 1.6}, "encoding": {"x": {"field": "gx", "type": "quantitative"}}},
  {"data": {"name": "gates"}, "transform": [{"filter": "datum.panel === 'J'"}], "mark": {"type": "rule", "color": "#5e5e5e", "strokeWidth": 1.6}, "encoding": {"x": {"field": "g1", "type": "quantitative"}, "x2": {"field": "g2"}, "y": {"field": "gy", "type": "quantitative"}}},
  {"data": {"name": "gates"}, "transform": [{"filter": "datum.panel === 'J'"}], "mark": {"type": "text", "fontWeight": "bold", "fontSize": 18, "align": "right", "baseline": "alphabetic", "color": "#1a1a1a"}, "encoding": {"x": {"datum": 3.912}, "y": {"datum": 951}, "text": {"field": "pct"}}},
  {"data": {"name": "gates"}, "transform": [{"filter": "datum.panel === 'J'"}], "mark": {"type": "text", "fontSize": 7, "color": "#555", "baseline": "middle"}, "encoding": {"x": {"datum": 3.028}, "y": {"datum": 616}, "text": {"field": "gate"}}},
  {"data": {"name": "gates"}, "transform": [{"filter": "datum.panel === 'J'"}], "mark": {"type": "text", "fontWeight": "bold", "fontSize": 11, "align": "right", "baseline": "middle", "dx": -18, "dy": 7, "color": "#111"}, "encoding": {"x": {"datum": 1.468}, "y": {"datum": 1200}, "text": {"field": "letter"}}}
 ]}
]}
], "spacing": 10}
],
"config": {
 "font": "Liberation Sans",
 "view": {"stroke": "#808080", "strokeWidth": 1.5},
 "axis": {"grid": false, "domainColor": "#707070", "tickColor": "#707070", "labelColor": "#555", "titleColor": "#444", "labelFont": "Liberation Sans", "titleFont": "Liberation Sans"},
 "axisX": {"tickSize": 4, "labelFontSize": 8, "labelFlush": false},
 "axisY": {"labelAngle": -90, "labelAlign": "center", "labelBaseline": "bottom", "labelFontSize": 6, "tickSize": 3, "labelPadding": 1, "titleFontSize": 9.5, "titleFontWeight": "normal", "titlePadding": 2},
 "title": {"font": "Lato", "fontWeight": "bold", "fontSize": 14.5, "color": "#111", "anchor": "middle", "baseline": "bottom"}
}
}
